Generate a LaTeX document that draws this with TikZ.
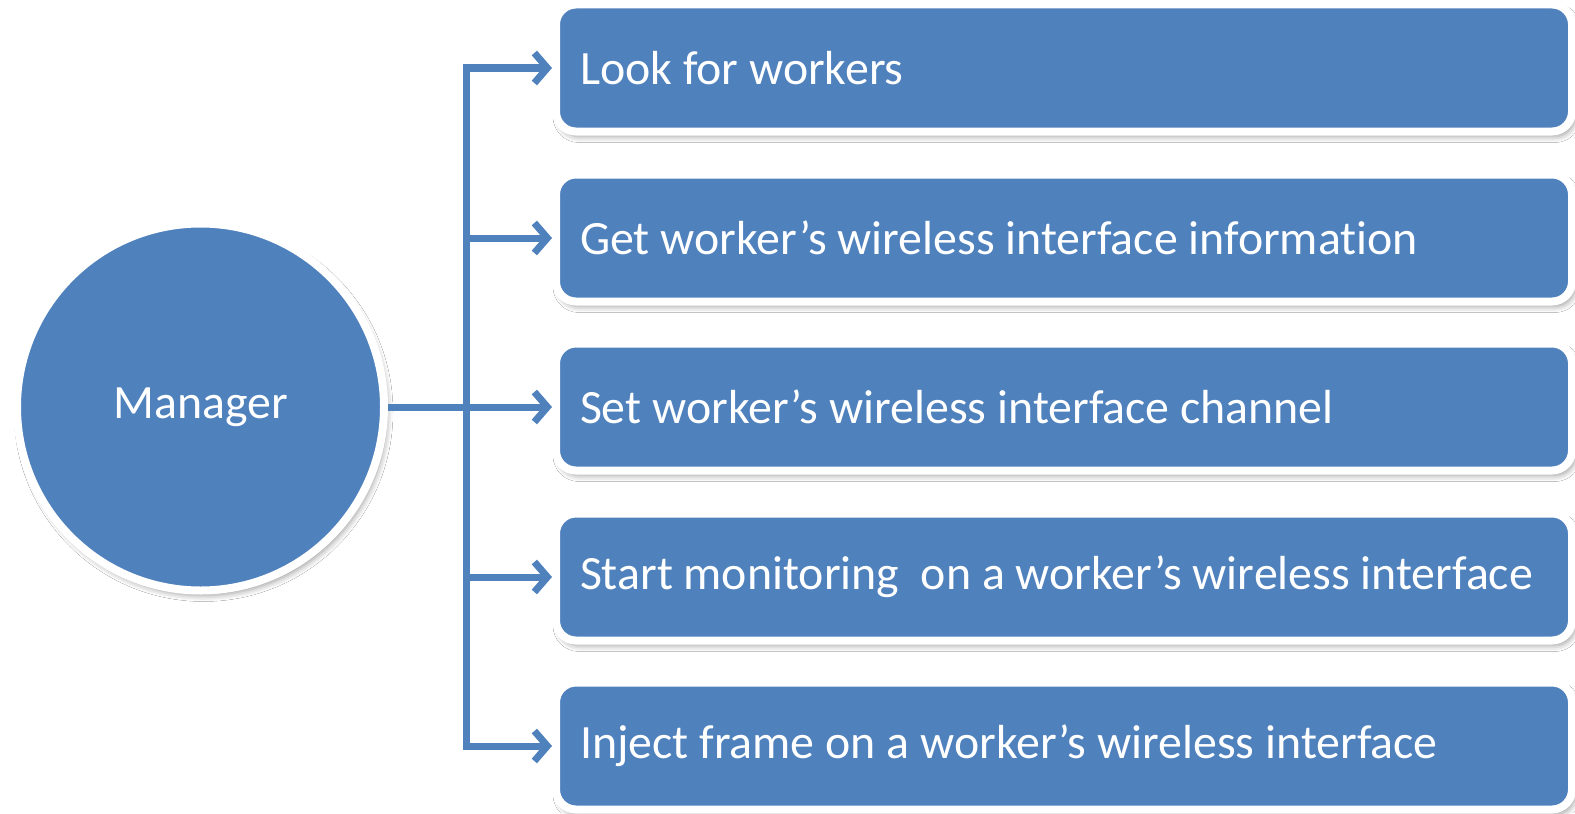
\documentclass[tikz,border=0pt]{standalone}
\usepackage{fontspec}
\setmainfont{Carlito}[Ligatures=NoCommon]
\usetikzlibrary{arrows.meta,shadows.blur}
\definecolor{boxblue}{HTML}{4F81BD}
\tikzset{
  shade/.style={blur shadow={shadow xshift=3bp,shadow yshift=-5bp,shadow blur radius=6bp,shadow opacity=40}},
  taskbox/.style={shape=rectangle,rounded corners=20bp,fill=boxblue,draw=white,line width=8bp,
    minimum width=1016bp,minimum height=127bp,text width=968bp,inner xsep=24bp,align=flush left,
    text=white,font=\fontsize{48}{58}\selectfont,anchor=west,shade},
  hub/.style={shape=circle,fill=boxblue,draw=white,line width=8bp,minimum size=367bp,
    text=white,font=\fontsize{48}{56}\selectfont,shade},
  conn/.style={draw=boxblue,line width=7bp},
  barb/.tip={Straight Barb[length=13bp,width=30bp,line width=7bp]},
  tip/.style={-barb}
}
\begin{document}
\begin{tikzpicture}[x=1bp,y=-1bp]
\useasboundingbox[fill=white] (0,0) rectangle (1575,813);

\node[hub] (m) at (200.5,407) {Manager};

\node[taskbox] (b1) at (552,68) {Look for workers};
\node[taskbox] (b2) at (552,238) {Get worker’s wireless interface information};
\node[taskbox] (b3) at (552,407) {Set worker’s wireless interface channel};
\node[taskbox] (b4) at (552,577) {Start monitoring\ \ on a worker’s wireless interface};
\node[taskbox] (b5) at (552,746) {Inject frame on a worker’s wireless interface};

\coordinate (tx) at (466,407);

% trunk with its two outer branches
\draw[conn,barb-barb] (b5.west) -| (tx) |- (b1.west);
% inner branches
\draw[conn,tip] (tx |- b2.west) -- (b2.west);
\draw[conn,tip] (tx |- b4.west) -- (b4.west);
\draw[conn,tip] (m.east) -- (b3.west);
\end{tikzpicture}
\end{document}
